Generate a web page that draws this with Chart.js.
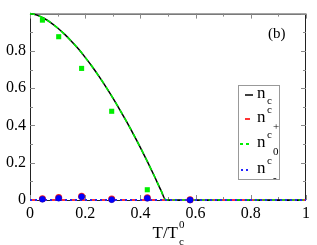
<!DOCTYPE html>
<html><head><meta charset="utf-8">
<script src="https://cdn.jsdelivr.net/npm/chart.js@4/dist/chart.umd.min.js"></script>
<style>html,body{margin:0;padding:0;background:#fff;}canvas{display:block;}</style>
</head><body>
<canvas id="c" width="317" height="245"></canvas>
<script>
// Theory curves
const T_CURVE = [0,0.025,0.05,0.075,0.1,0.125,0.15,0.175,0.2,0.225,0.25,0.275,0.3,0.325,0.35,0.375,0.4,0.425,0.45,0.475,0.492,1];
const N_C     = [1,0.992,0.975,0.952,0.923,0.89,0.852,0.811,0.765,0.716,0.663,0.607,0.548,0.485,0.42,0.352,0.281,0.207,0.13,0.05,0,0];
const N_C0    = [1,0.992,0.975,0.952,0.923,0.89,0.852,0.811,0.765,0.716,0.663,0.607,0.548,0.485,0.42,0.352,0.281,0.207,0.13,0.05,0,0];
const T_FLAT  = [0,1];
const N_CPLUS = [0,0];
const N_CMINUS= [0,0];
// Simulation points
const T_SIM   = [0.045,0.104,0.187,0.296,0.425,0.58];
const SIM_N0  = [0.965,0.876,0.706,0.476,0.055,null];
const SIM_NP  = [0.007,0.013,0.02,0.005,0.012,0.002];
const SIM_NM  = [0.004,0.01,0.017,0.002,0.009,0.0];
const X_TICKS = [0,0.2,0.4,0.6,0.8,1];
const Y_TICKS = [0,0.2,0.4,0.6,0.8];

const pts = (xs, ys) => xs.map((x,i)=>({x:x,y:ys[i]})).filter(p=>p.y!==null);
const SERIF = "'Liberation Serif', 'DejaVu Serif', serif";

const framePlugin = {
  id:'frame',
  beforeDatasetsDraw(chart){
    const {ctx, chartArea:a, scales} = chart;
    ctx.save();
    ctx.strokeStyle = '#222'; ctx.lineWidth = 1;
    ctx.strokeRect(a.left+0.5, a.top+0.5, a.right-a.left-1, a.bottom-a.top);
    ctx.strokeStyle = '#888';
    const xs = scales.x, ys = scales.y;
    const xt = xs.ticks.map(t=>t.value), yt = ys.ticks.map(t=>t.value);
    function drawX(v,len){
      const px = Math.round(xs.getPixelForValue(v))+0.5;
      ctx.beginPath(); ctx.moveTo(px,a.bottom); ctx.lineTo(px,a.bottom-len);
      ctx.moveTo(px,a.top); ctx.lineTo(px,a.top+len); ctx.stroke();
    }
    function drawY(v,len){
      const py = Math.round(ys.getPixelForValue(v))+0.5;
      ctx.beginPath(); ctx.moveTo(a.left,py); ctx.lineTo(a.left+len,py);
      ctx.moveTo(a.right,py); ctx.lineTo(a.right-len,py); ctx.stroke();
    }
    xt.forEach((v,i)=>{ drawX(v,5); if(i<xt.length-1) drawX((v+xt[i+1])/2,3); });
    yt.forEach((v,i)=>{ drawY(v,5); if(i<yt.length-1) drawY((v+yt[i+1])/2,3); });
    ctx.restore();
  },
  afterDraw(chart){
    const {ctx, chartArea:a} = chart;
    ctx.save();
    ctx.fillStyle = '#000';
    ctx.textBaseline = 'middle';
    // (b) label
    ctx.font = "15px " + SERIF;
    ctx.textAlign = 'left';
    ctx.fillText('(b)', 268, 34);
    // axis title T/T^0_c
    const cx = (a.left+a.right)/2;
    ctx.font = "17px " + SERIF;
    ctx.textAlign = 'right';
    ctx.fillText('T/T', cx+10, 234);
    ctx.font = "11px " + SERIF;
    ctx.textAlign = 'left';
    ctx.fillText('0', cx+11, 225);
    ctx.fillText('c', cx+11, 242);
    // legend
    const L = 238, Tp = 85, R = 279, B = 179;
    ctx.strokeStyle = '#999'; ctx.lineWidth = 1;
    ctx.strokeRect(L+0.5, Tp+0.5, R-L, B-Tp);
    const rows = [
      {y:95,  color:'#000', dash:[], x0:245, x1:253, sup:null, sub:'c', w:1.5},
      {y:119, color:'#ff3333', dash:[], x0:245, x1:250, sup:'c', sub:'+', w:2},
      {y:144, color:'#00ee00', dash:[3,3], x0:240, x1:252, sup:'c', sub:'0', w:2},
      {y:170, color:'#2222ff', dash:[2,3], x0:241, x1:250, sup:'c', sub:'-', w:2}
    ];
    rows.forEach(r=>{
      ctx.strokeStyle = r.color; ctx.lineWidth = r.w; ctx.setLineDash(r.dash);
      ctx.beginPath(); ctx.moveTo(r.x0, r.y); ctx.lineTo(r.x1, r.y); ctx.stroke();
      ctx.setLineDash([]);
      ctx.font = "17px " + SERIF; ctx.textAlign='left';
      ctx.fillText('n', 257, r.y-1);
      ctx.font = "11px " + SERIF;
      if(r.sup){
        ctx.fillText(r.sup, 267, r.y-9);
        ctx.fillText(r.sub, 273, r.y+8);
      } else {
        ctx.fillText(r.sub, 267, r.y+6);
      }
    });
    ctx.restore();
  }
};

new Chart(document.getElementById('c'), {
  type:'scatter',
  data:{ datasets:[
    {label:'sim n-', data:pts(T_SIM,SIM_NM), showLine:false, pointStyle:'circle', pointRadius:3, backgroundColor:'#0000ff', borderColor:'#0000cc', borderWidth:0.5, clip:false},
    {label:'sim n+', data:pts(T_SIM,SIM_NP), showLine:false, pointStyle:'circle', pointRadius:3.5, backgroundColor:'#ff2222', borderColor:'#ff2222', borderWidth:0, clip:false},
    {label:'sim n0', data:pts(T_SIM,SIM_N0), showLine:false, pointStyle:'rect', pointRadius:3.6, backgroundColor:'#00ee00', borderColor:'#00ee00', borderWidth:0, clip:false},
    {label:'n_c-', data:pts(T_FLAT,N_CMINUS), showLine:true, pointRadius:0, borderColor:'#2222ff', borderWidth:2, borderDash:[2,3], clip:false},
    {label:'n_c0', data:pts(T_CURVE,N_C0), showLine:true, pointRadius:0, borderColor:'#00ee00', borderWidth:1.6, borderDash:[5,4], cubicInterpolationMode:'monotone', clip:false},
    {label:'n_c+', data:pts(T_FLAT,N_CPLUS), showLine:true, pointRadius:0, borderColor:'#ff3333', borderWidth:2, borderDash:[6,4], clip:false},
    {label:'n_c', data:pts(T_CURVE,N_C), showLine:true, pointRadius:0, borderColor:'#000', borderWidth:1.5, cubicInterpolationMode:'monotone', clip:false}
  ]},
  options:{
    responsive:false, animation:false, devicePixelRatio:1,
    layout:{padding:{top:13,right:11,left:0,bottom:0}},
    plugins:{legend:{display:false}, tooltip:{enabled:false}},
    scales:{
      x:{type:'linear', min:0, max:1,
         afterBuildTicks:s=>{ s.ticks = X_TICKS.map(v=>({value:v})); },
         afterFit:s=>{ s.height = 45; },
         grid:{display:false, drawTicks:false}, border:{display:false},
         ticks:{color:'#000', font:{family:SERIF, size:16}, padding:4, maxRotation:0,
                callback:v=> String(v)}},
      y:{type:'linear', min:0, max:1,
         afterBuildTicks:s=>{ s.ticks = Y_TICKS.concat([1]).map(v=>({value:v})); },
         afterFit:s=>{ s.width = 30; },
         grid:{display:false, drawTicks:false}, border:{display:false},
         ticks:{color:'#000', font:{family:SERIF, size:16}, padding:4,
                callback:v=> Y_TICKS.includes(v) ? String(v) : ''}}
    }
  },
  plugins:[framePlugin]
});
</script>
</body></html>
